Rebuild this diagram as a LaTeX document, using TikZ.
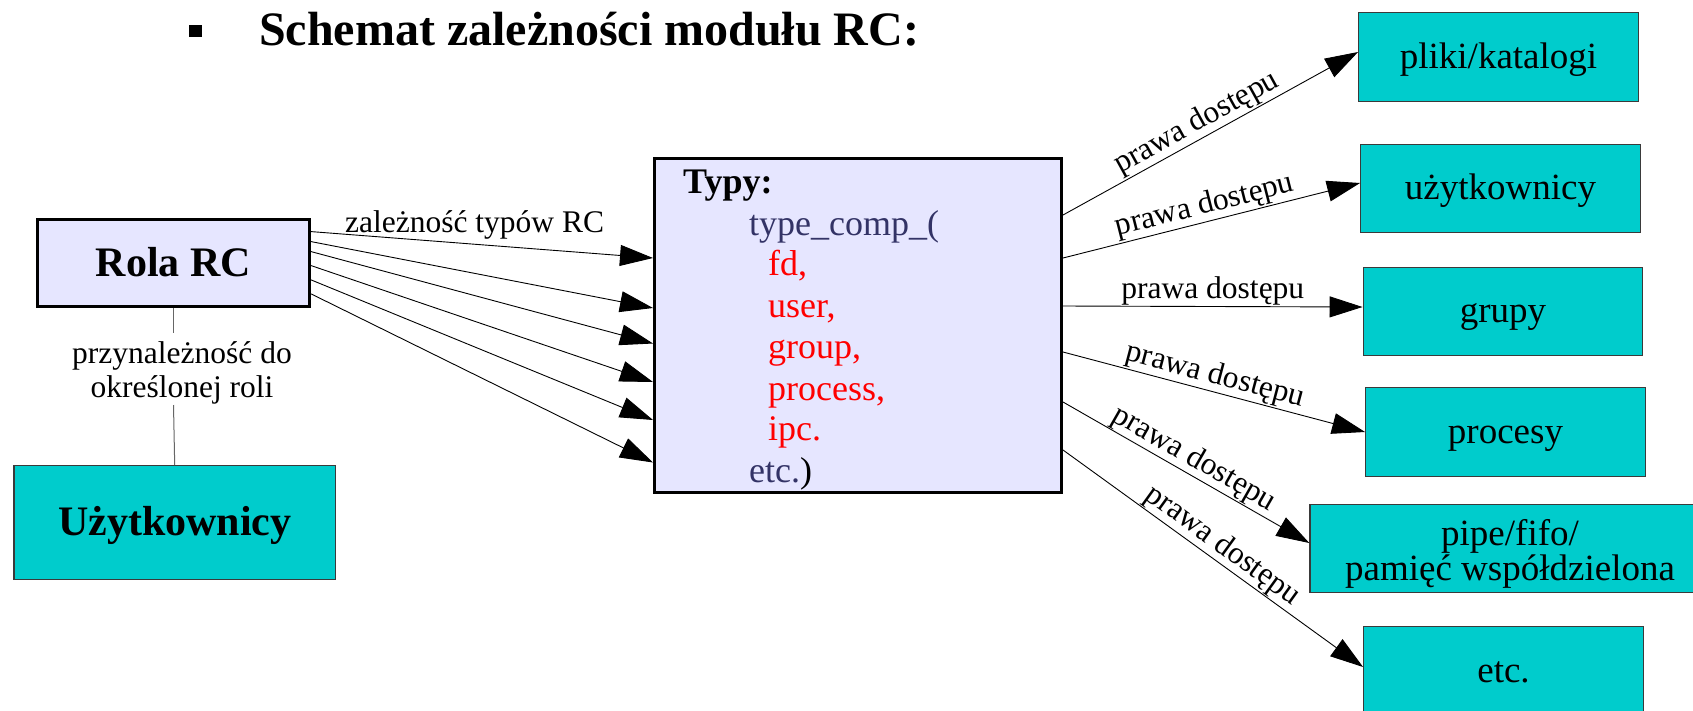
\documentclass[tikz,border=0pt]{standalone}
\usepackage{fontspec}
\setmainfont{Liberation Serif}
\usetikzlibrary{arrows.meta}
\definecolor{lav}{HTML}{E6E6FF}
\definecolor{tealbg}{HTML}{00CCCC}
\definecolor{navy}{HTML}{333366}
\definecolor{boxgray}{HTML}{3A3A3A}
\definecolor{linegray}{HTML}{666666}
\begin{document}
\begin{tikzpicture}[x=1pt,y=-1pt,
  lavbox/.style={draw=black, line width=3.2pt, fill=lav, inner sep=0pt},
  tealbox/.style={draw=boxgray, line width=1.4pt, fill=tealbg, inner sep=0pt,
     font=\fontsize{37}{40}\selectfont, text height=29.6pt, text depth=7.4pt,
     minimum width=279.5pt, minimum height=88.5pt},
  lbl/.style={font=\fontsize{31.5}{34}\selectfont, inner sep=0pt},
  typtxt/.style={font=\fontsize{36}{41}\selectfont, inner sep=0pt, anchor=base west},
  arr/.style={-{Triangle[length=33pt,width=21pt]}, line width=0.9pt, black},
  conn/.style={line width=1pt, linegray}]
\useasboundingbox (0,0) rectangle (1693,710);
\clip (0,0) rectangle (1693,710);
\fill[white] (0,0) rectangle (1693,710);

% title
\node (bullet) [fill=black, minimum width=13pt, minimum height=12pt, inner sep=0pt] at (195,31) {};
\node (title) [anchor=base west, inner sep=0pt, font=\bfseries\fontsize{48}{52}\selectfont] at (259,45) {Schemat zależności modułu RC:};

% left boxes
\node (rola) [lavbox, minimum width=272pt, minimum height=87pt,
   font=\bfseries\fontsize{42}{46}\selectfont, text height=35.7pt, text depth=8.4pt]
   at (173.5,263) {Rola RC};
\node (uzyt) [tealbox, minimum width=321.5pt, minimum height=113.5pt,
   font=\bfseries\fontsize{42}{46}\selectfont, text height=33.4pt, text depth=8.4pt]
   at (174.7,522.5) {Użytkownicy};

% membership connector
\coordinate (pa) at (173.5,333);
\coordinate (pb) at (173.5,405);
\draw[conn] (rola.south) -- (pa);
\draw[conn] (pb) -- (uzyt.north);
\node (plab1) [lbl, anchor=base] at (182,363) {przynależność do};
\node (plab2) [lbl, anchor=base] at (182,397) {określonej roli};

% central box
\node (typy) [lavbox, minimum width=406.8pt, minimum height=333.8pt] at (858,325.5) {};
\node (t1) [typtxt, font=\bfseries\fontsize{36}{41}\selectfont] at (683,193) {Typy:};
\node (t2) [typtxt, text=navy] at (749,235) {type\_comp\_(};
\node (t3) [typtxt, text=red] at (768,275) {fd,};
\node (t4) [typtxt, text=red] at (768,317) {user,};
\node (t5) [typtxt, text=red] at (768,358) {group,};
\node (t6) [typtxt, text=red] at (768,400) {process,};
\node (t7) [typtxt, text=red] at (768,440) {ipc.};
\node (t8) [typtxt] at (749,482) {\textcolor{navy}{etc.})};

% left arrows
\draw[arr] ([yshift=-13.7pt]rola.north east) -- ([yshift=-101pt]typy.north west)
   node (zlab) [lbl, pos=0.478, anchor=base, yshift=12pt] {zależność typów RC};
\draw[arr] ([yshift=-23.7pt]rola.north east) -- ([yshift=-151pt]typy.north west);
\draw[arr] ([yshift=-33.7pt]rola.north east) -- ([yshift=-186.5pt]typy.north west);
\draw[arr] ([yshift=-47.7pt]rola.north east) -- ([yshift=-225pt]typy.north west);
\draw[arr] ([yshift=-62pt]rola.north east) -- ([yshift=-263pt]typy.north west);
\draw[arr] ([yshift=-76pt]rola.north east) -- ([yshift=-305.5pt]typy.north west);

% right boxes
\node (pliki) [tealbox] at (1498.5,57) {pliki/katalogi};
\node (users) [tealbox] at (1500.5,188.5) {użytkownicy};
\node (grupy) [tealbox] at (1503,311.5) {grupy};
\node (proc) [tealbox] at (1505.5,432) {procesy};
\node (pipe) [tealbox, minimum width=400pt] at (1510,548.5) {};
\node (pipe1) [lbl, font=\fontsize{37}{40}\selectfont, anchor=base] at (1510,545) {pipe/fifo/};
\node (pipe2) [lbl, font=\fontsize{37}{40}\selectfont, anchor=base] at (1510,580) {pamięć współdzielona};
\node (etc) [tealbox] at (1503.5,671) {etc.};

% right arrows
\draw[arr] ([yshift=-58pt]typy.north east) -- ([yshift=5pt]pliki.west)
   node (r1) [lbl, pos=0.48, sloped, above=1pt] {prawa dostępu};
\draw[arr] ([yshift=-101pt]typy.north east) -- ([yshift=5.5pt]users.west)
   node (r2) [lbl, pos=0.49, sloped, above=1pt] {prawa dostępu};
\draw[arr] ([yshift=-149pt]typy.north east) -- ([yshift=4.5pt]grupy.west)
   node (r3) [lbl, pos=0.5, sloped, above=1pt] {prawa dostępu};
\draw[arr] ([yshift=-195pt]typy.north east) -- (proc.west)
   node (r4) [lbl, pos=0.49, sloped, above=1pt] {prawa dostępu};
\draw[arr] ([yshift=-245pt]typy.north east) -- ([yshift=5.5pt]pipe.west)
   node (r5) [lbl, pos=0.5, sloped, above=1pt] {prawa dostępu};
\draw[arr] ([yshift=-293pt]typy.north east) -- ([yshift=4pt]etc.west)
   node (r6) [lbl, pos=0.5, sloped, above=1pt] {prawa dostępu};
\end{tikzpicture}
\end{document}
